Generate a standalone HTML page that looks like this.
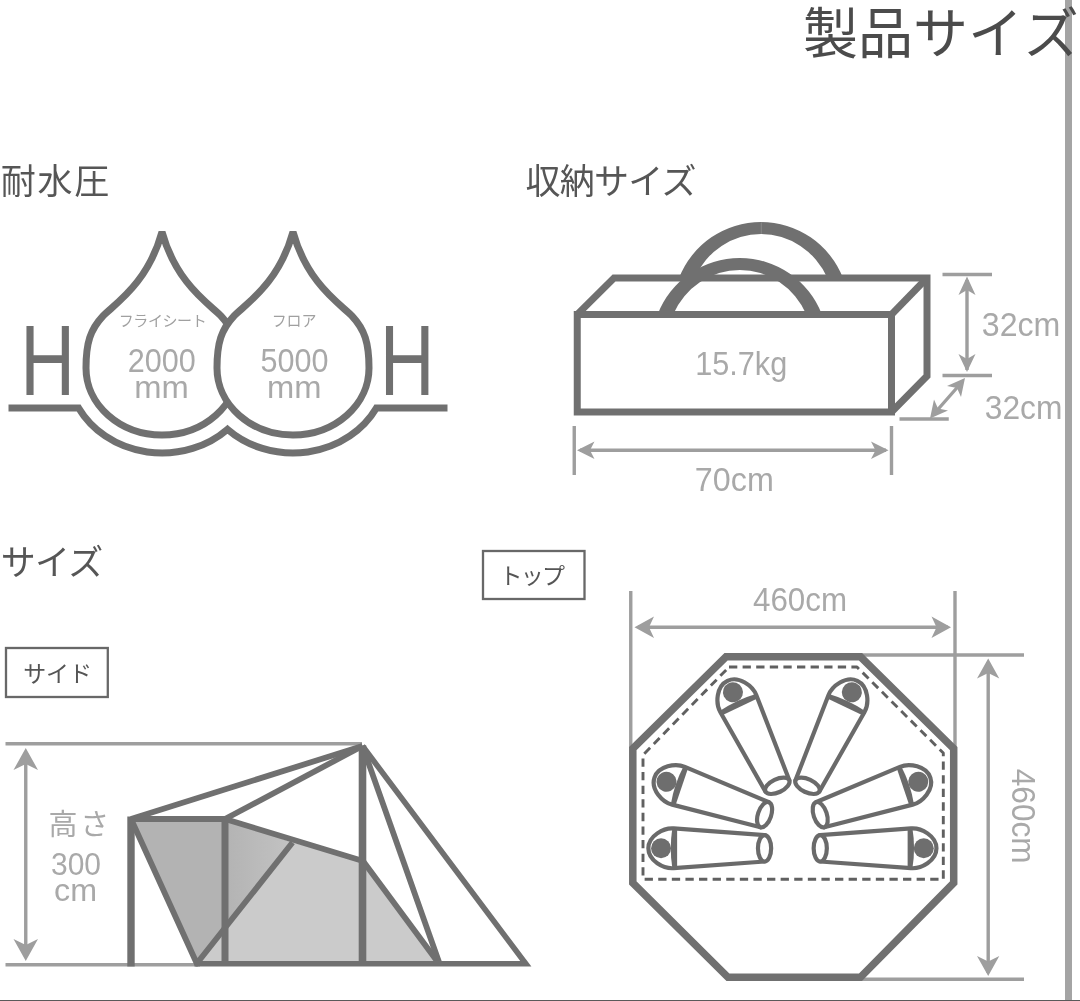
<!DOCTYPE html>
<html lang="ja">
<head>
<meta charset="utf-8">
<title>製品サイズ</title>
<style>
html,body{margin:0;padding:0;background:#fff;}
body{width:1080px;height:1001px;overflow:hidden;position:relative;}
svg{display:block;position:absolute;left:0;top:0;will-change:transform;}
text{font-family:"Liberation Sans","Noto Sans CJK JP",sans-serif;}
.hd{fill:#575757;font-weight:400;}
.lt{fill:#a9a9a9;}
.dk{stroke:#707070;fill:none;}
.dim{stroke:#9e9e9e;fill:none;stroke-width:3.4;}
.ah{fill:#9e9e9e;stroke:none;}
</style>
</head>
<body>
<svg width="1080" height="1001" viewBox="0 0 1080 1001">
<rect x="0" y="0" width="1080" height="1001" fill="#ffffff"/>

<!-- frame -->
<g id="frame">
<rect x="1065" y="0" width="7" height="1001" fill="#a4a4a4"/>
<rect x="0" y="1000" width="1080" height="1" fill="#5a5a5a"/>
</g>

<defs><filter id="soft" x="0" y="0" width="1080" height="1001" filterUnits="userSpaceOnUse"><feGaussianBlur stdDeviation="0.55"/></filter></defs>
<g id="art" filter="url(#soft)">
<!-- title -->
<g id="title">
<text class="hd" x="803" y="52.5" font-size="55" style="fill:#4c4c4c;font-weight:400">製品サイ<tspan dx="2.5">ズ</tspan></text>
</g>

<!-- water pressure -->
<g id="water">
<text class="hd" x="0.8" y="194.3" font-size="35" letter-spacing="1.7">耐水圧</text>
<path class="dk" stroke-width="7" stroke-linejoin="miter" d="M8.5 408H78.6A94.5 85 0 0 0 227.5 429.3A94.5 85 0 0 0 376.4 408H447.5"/>
<path class="dk" stroke-width="7" stroke-linejoin="bevel" fill="#fff" d="M162 231.8C147.8 283.8 114.0 304.5 103.0 316C90.3 329.5 86.0 343 86.0 368A76 67 0 0 0 238.0 368C238.0 343 233.7 329.5 221.0 316C210.0 304.5 176.2 283.8 162 231.8Z"/>
<path class="dk" stroke-width="7" stroke-linejoin="bevel" style="fill:#fff" d="M293 231.8C278.8 283.8 245.0 304.5 234.0 316C221.3 329.5 217.0 343 217.0 368A76 67 0 0 0 369.0 368C369.0 343 364.7 329.5 352.0 316C341.0 304.5 307.2 283.8 293 231.8Z"/>
<text transform="translate(20.3 394.5) scale(0.752 1)" x="0" y="0" font-size="101" fill="#707070">H</text>
<text transform="translate(379.8 394.5) scale(0.752 1)" x="0" y="0" font-size="101" fill="#707070">H</text>
<text x="162.5" y="326.3" font-size="15" text-anchor="middle" fill="#a0a0a0" letter-spacing="-0.4">フライシート</text>
<text class="lt" x="161.7" y="371.5" font-size="33.5" text-anchor="middle" textLength="68" lengthAdjust="spacingAndGlyphs">2000</text>
<text class="lt" x="161.5" y="397.5" font-size="32" text-anchor="middle" textLength="54.5" lengthAdjust="spacingAndGlyphs">mm</text>
<text x="294" y="326.3" font-size="15" text-anchor="middle" fill="#a0a0a0" letter-spacing="-0.2">フロア</text>
<text class="lt" x="294.5" y="371.5" font-size="33.5" text-anchor="middle" textLength="68" lengthAdjust="spacingAndGlyphs">5000</text>
<text class="lt" x="294.3" y="397.5" font-size="32" text-anchor="middle" textLength="54.5" lengthAdjust="spacingAndGlyphs">mm</text>
</g>

<!-- storage size -->
<g id="storage">
<text class="hd" x="525.6" y="194" font-size="35" letter-spacing="-0.75">収納サイズ</text>
<g class="dk" stroke-width="7" stroke-linejoin="miter">
<path d="M577.25 314.5L614 278H927V376L891.5 412"/>
<path d="M891.5 314.5L927 278"/>
<rect x="577.25" y="314.5" width="314.25" height="97.5"/>
</g>
<path fill="#707070" d="M679.02 278A88 88 0 0 1 842.98 278L827.40 278A73.2 76 0 0 0 694.60 278Z"/>
<path fill="#707070" d="M657.58 314.5A88 88 0 0 1 821.92 314.5L806.37 314.5A73.2 76 0 0 0 673.13 314.5Z"/>
<path d="M761.3 222.3V233.8" stroke="#8c8c8c" stroke-width="0.9" fill="none"/>
<text class="lt" x="741.2" y="375" font-size="33.5" text-anchor="middle" textLength="92" lengthAdjust="spacingAndGlyphs">15.7kg</text>
<g class="dim">
<path d="M942.5 274.5H992M942.5 375.5H992M967 280V370M962 382L933 415M899.5 419H948.75M580 450.3H886M574.25 426V475M891.5 426V475"/>
</g>
<g class="ah">
<path d="M967 276.5L975.5 295L967 290L958.5 295Z"/>
<path d="M967 372L975.5 354L967 359L958.5 354Z"/>
<path d="M965 378L961 397L957 388L947 386Z"/>
<path d="M930 418.5L934 399.5L938 408.5L948 410.5Z"/>
<path d="M577 450.3L594.5 441.5L590 450.3L594.5 459Z"/>
<path d="M888.5 450.3L871 441.5L875.5 450.3L871 459Z"/>
</g>
<text class="lt" x="981.8" y="335.7" font-size="33" textLength="78.6" lengthAdjust="spacingAndGlyphs">32cm</text>
<text class="lt" x="984.8" y="419" font-size="33" textLength="77.6" lengthAdjust="spacingAndGlyphs">32cm</text>
<text class="lt" x="694.8" y="490.5" font-size="33" textLength="79" lengthAdjust="spacingAndGlyphs">70cm</text>
</g>

<!-- size / side -->
<g id="side">
<text class="hd" x="0.8" y="575" font-size="35" letter-spacing="-0.7">サイズ</text>
<rect x="6" y="648" width="101.8" height="49" fill="#fff" stroke="#686868" stroke-width="2.3"/>
<text x="23.3" y="681.5" font-size="23" fill="#555" letter-spacing="-0.2">サイド</text>
<g class="dim" stroke-width="3.2">
<path d="M5.5 743.8H362M5.5 964.8H200M25.75 752V957"/>
</g>
<g class="ah">
<path d="M25.75 748L38 770L25.75 764L13.5 770Z"/>
<path d="M25.75 961L38 939L25.75 945L13.5 939Z"/>
</g>
<text class="lt" x="48.6" y="835" font-size="29" letter-spacing="2.6">高さ</text>
<text class="lt" x="76" y="875" font-size="32" text-anchor="middle" textLength="50" lengthAdjust="spacingAndGlyphs">300</text>
<text class="lt" x="75.5" y="901" font-size="31" text-anchor="middle" textLength="43" lengthAdjust="spacingAndGlyphs">cm</text>
<linearGradient id="tg" gradientUnits="userSpaceOnUse" x1="225" y1="0" x2="290" y2="0"><stop offset="0" stop-color="#b3b3b3"/><stop offset="1" stop-color="#c2c2c2"/></linearGradient>
<polygon points="131,819 225,819 292.5,842.5 197.5,964" fill="url(#tg)"/>
<polygon points="292.5,842.5 363,861 438.5,964 197.5,964" fill="#cbcbcb"/>
<g class="dk" stroke-width="5.8" stroke-linejoin="round">
<path d="M131 819H225" stroke-width="6.2"/>
<path d="M131 966.4V816.5" stroke-width="7.4"/>
<path d="M225 964V819" stroke-width="7"/>
<path d="M131 819L362.5 746"/>
<path d="M225 819L362.5 746"/>
<path d="M362.5 745.5V964" stroke-width="7.6"/>
<path d="M225 819L363 861L438.5 963"/>
<path d="M131 819L196.8 963.5L292.5 842.5"/>
<path d="M362.5 746L439.5 963.5"/>
<path d="M362.5 746L525.8 963.8H194.5" stroke-linejoin="miter" stroke-width="5.6"/>
</g>
</g>

<!-- top view -->
<g id="top">
<rect x="483" y="551" width="101.5" height="48" fill="#fff" stroke="#686868" stroke-width="2.3"/>
<text x="499.5" y="584" font-size="23" fill="#555" letter-spacing="-1.7">トップ</text>
<text class="lt" x="800" y="611.2" font-size="32.5" text-anchor="middle" textLength="94" lengthAdjust="spacingAndGlyphs">460cm</text>
<text class="lt" transform="translate(1012 816.2) rotate(90)" font-size="32.5" text-anchor="middle" textLength="95" lengthAdjust="spacingAndGlyphs">460cm</text>
<g class="dim">
<path d="M630.75 591V748M955 591V748M638 627.2H948M860 655H1024M860 979.3H1024M988.2 662V973"/>
</g>
<g class="ah">
<path d="M634.5 627.2L654 616.5L649 627.2L654 638Z"/>
<path d="M951 627.2L931.5 616.5L936.5 627.2L931.5 638Z"/>
<path d="M988.2 658.5L999.3 678.5L988.2 673L977 678.5Z"/>
<path d="M988.2 976L999.3 956L988.2 961.5L977 956Z"/>
</g>
<polygon class="dk" stroke-width="7.5" stroke-linejoin="miter" points="726,656.8 860.5,656.8 953.7,748.5 953.7,883 860.4,977.3 728,977.3 632.8,883 632.8,748.5"/>
<path d="M729 667H857L943.3 753V879.2H643V755Z" fill="none" stroke="#606060" stroke-width="2.9" stroke-dasharray="8.3 5.3" stroke-linejoin="round"/>

<g id="bags">
<g transform="translate(660.75 848.3)">
<path d="M13 -19.9C3 -20.7 -12.4 -12.5 -12.4 0C-12.4 12.5 3 20.7 13 19.9L104 13.2V-13.2Z" fill="#fff" stroke="#6b6b6b" stroke-width="4.2" stroke-linejoin="round"/>
<ellipse cx="103.8" cy="0" rx="6.6" ry="13.2" fill="#fff" stroke="#6b6b6b" stroke-width="4.2"/>
<path d="M11.6 -20L16.4 -20V20L11.6 20Q8.4 0 11.6 -20Z" fill="#6b6b6b"/>
<circle cx="0.3" cy="0" r="10" fill="#6e6e6e"/>
</g>
<g transform="translate(666.2 781.6) rotate(18.6)">
<path d="M13 -19.9C3 -20.7 -12.4 -12.5 -12.4 0C-12.4 12.5 3 20.7 13 19.9L104 13.2V-13.2Z" fill="#fff" stroke="#6b6b6b" stroke-width="4.2" stroke-linejoin="round"/>
<ellipse cx="103.8" cy="0" rx="6.6" ry="13.2" fill="#fff" stroke="#6b6b6b" stroke-width="4.2"/>
<path d="M11.6 -20L16.4 -20V20L11.6 20Q8.4 0 11.6 -20Z" fill="#6b6b6b"/>
<circle cx="0.3" cy="0" r="10" fill="#6e6e6e"/>
</g>
<g transform="translate(732.8 692) rotate(64.6)">
<path d="M13 -19.9C3 -20.7 -12.4 -12.5 -12.4 0C-12.4 12.5 3 20.7 13 19.9L104 13.2V-13.2Z" fill="#fff" stroke="#6b6b6b" stroke-width="4.2" stroke-linejoin="round"/>
<ellipse cx="103.8" cy="0" rx="6.6" ry="13.2" fill="#fff" stroke="#6b6b6b" stroke-width="4.2"/>
<path d="M11.6 -20L16.4 -20V20L11.6 20Q8.4 0 11.6 -20Z" fill="#6b6b6b"/>
<circle cx="0.3" cy="0" r="10" fill="#6e6e6e"/>
</g>
<g transform="translate(1584.8 0) scale(-1 1) translate(660.75 848.3)">
<path d="M13 -19.9C3 -20.7 -12.4 -12.5 -12.4 0C-12.4 12.5 3 20.7 13 19.9L104 13.2V-13.2Z" fill="#fff" stroke="#6b6b6b" stroke-width="4.2" stroke-linejoin="round"/>
<ellipse cx="103.8" cy="0" rx="6.6" ry="13.2" fill="#fff" stroke="#6b6b6b" stroke-width="4.2"/>
<path d="M11.6 -20L16.4 -20V20L11.6 20Q8.4 0 11.6 -20Z" fill="#6b6b6b"/>
<circle cx="0.3" cy="0" r="10" fill="#6e6e6e"/>
</g>
<g transform="translate(1584.8 0) scale(-1 1) translate(666.2 781.6) rotate(18.6)">
<path d="M13 -19.9C3 -20.7 -12.4 -12.5 -12.4 0C-12.4 12.5 3 20.7 13 19.9L104 13.2V-13.2Z" fill="#fff" stroke="#6b6b6b" stroke-width="4.2" stroke-linejoin="round"/>
<ellipse cx="103.8" cy="0" rx="6.6" ry="13.2" fill="#fff" stroke="#6b6b6b" stroke-width="4.2"/>
<path d="M11.6 -20L16.4 -20V20L11.6 20Q8.4 0 11.6 -20Z" fill="#6b6b6b"/>
<circle cx="0.3" cy="0" r="10" fill="#6e6e6e"/>
</g>
<g transform="translate(1584.8 0) scale(-1 1) translate(732.8 692) rotate(64.6)">
<path d="M13 -19.9C3 -20.7 -12.4 -12.5 -12.4 0C-12.4 12.5 3 20.7 13 19.9L104 13.2V-13.2Z" fill="#fff" stroke="#6b6b6b" stroke-width="4.2" stroke-linejoin="round"/>
<ellipse cx="103.8" cy="0" rx="6.6" ry="13.2" fill="#fff" stroke="#6b6b6b" stroke-width="4.2"/>
<path d="M11.6 -20L16.4 -20V20L11.6 20Q8.4 0 11.6 -20Z" fill="#6b6b6b"/>
<circle cx="0.3" cy="0" r="10" fill="#6e6e6e"/>
</g>
</g>
</g>
</g>
</svg>
</body>
</html>
